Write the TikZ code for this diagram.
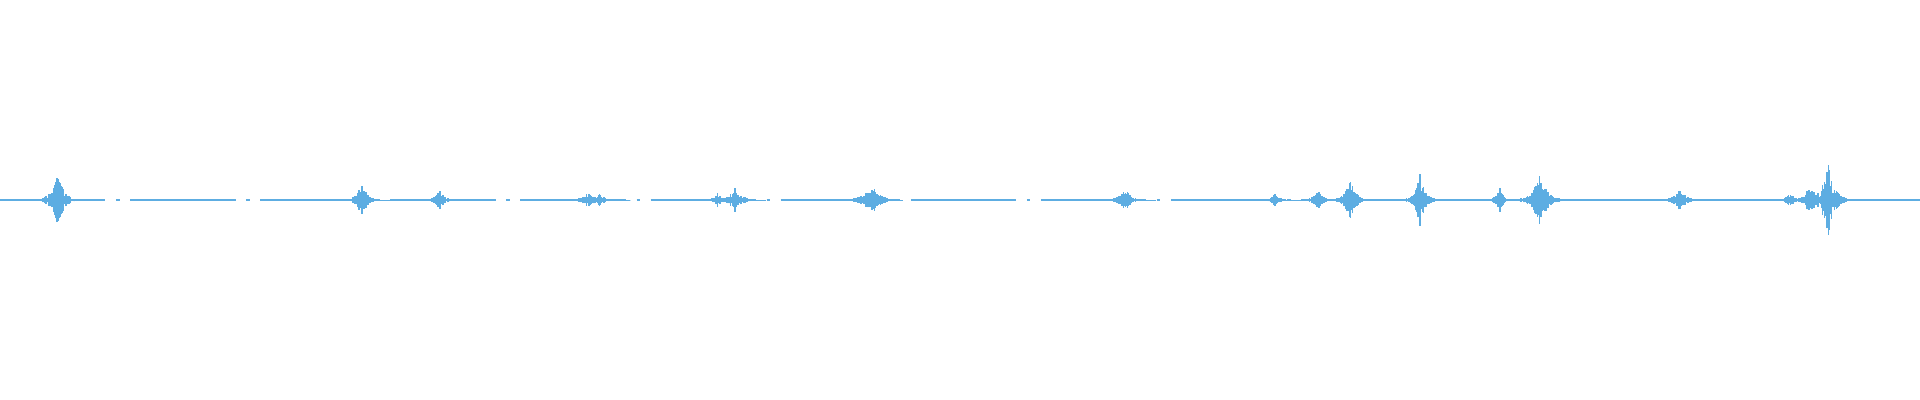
\documentclass[tikz,border=0pt]{standalone}
\usepackage{tikz}

\definecolor{wave}{RGB}{93,173,226}

\tikzset{
  wavestroke/.style={draw=wave, line width=0.3pt},
  baseline/.style={draw=wave, line width=0.3pt, dash pattern=on 30pt off 3pt on 1pt off 3pt}
}

\begin{document}
\begin{tikzpicture}[x=0.01cm, y=0.01cm]
  \useasboundingbox (0,0) rectangle (1920,400);
  \pgfmathsetseed{7}
  % silent line
  \draw[baseline] (0,200) -- (1920,200);
  % bursts: centre / amplitude / width
  \foreach \c/\a/\w in {58/28/12, 362/18/10, 440/10/10, 588/10/14, 600/8/10, 735/12/14,
                        718/8/8, 872/16/16, 1125/12/12, 1275/8/8, 1318/10/10,
                        1350/24/10, 1420/26/10, 1500/12/8, 1540/28/14, 1680/12/12,
                        1790/8/8, 1810/16/12, 1828/40/12} {
    \foreach \i in {-60,...,60} {
      \pgfmathsetmacro\h{\a*exp(-abs(\i)/\w)*(0.2+0.8*rnd)}
      \draw[wavestroke] ({\c+\i*0.5},{200-\h}) -- ({\c+\i*0.5},{200+\h});
    }
  }
\end{tikzpicture}
\end{document}
